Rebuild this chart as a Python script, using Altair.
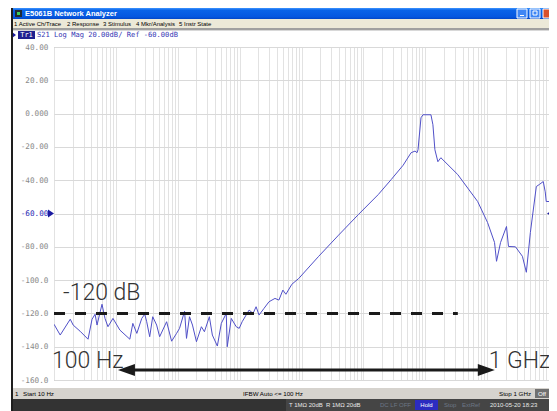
import altair as alt
import pandas as pd

# ---- trace data (S21, log magnitude) ----
freq_hz = [10, 12.6, 18.3, 20.4, 26.4, 35.5, 41.2, 46.1, 49.6, 59.7, 66.7, 74.5, 89.7,
           116, 168, 188, 218, 262, 293, 315, 352, 394, 456, 510, 661, 796, 957, 1069,
           1288, 1385, 1549, 1730, 2005, 2411, 2698, 3243, 3624, 4365, 5058, 6081, 6310,
           7328, 8810, 9840, 10990, 14230, 16520, 18450, 20610, 24770, 29850, 37240,
           43150, 50000, 55950, 69860, 90370, 189700, 397200, 832000, 1.742e6, 2.818e6,
           4.395e6, 5.902e6, 6.839e6, 7.366e6, 7.642e6, 8.535e6, 9.19e6, 1.236e7, 1.33e7,
           1.432e7, 1.6e7, 1.787e7, 3.35e7, 7.03e7, 1.016e8, 1.318e8, 1.419e8, 1.648e8,
           2.056e8, 2.213e8, 2.871e8, 3.715e8, 4.306e8, 5.0e8, 6.237e8, 6.966e8, 8.075e8,
           8.69e8, 9.02e8, 1e9]
s21_db = [-126.5, -133, -123.5, -127, -130.7, -135.5, -123.5, -120.5, -127, -114.5, -123,
          -128, -123, -130, -135.5, -126, -132, -123, -120.5, -125, -134, -122, -127, -134,
          -125, -136.7, -132, -129, -118.7, -135, -122, -127, -137, -128, -131, -122, -133,
          -139.6, -126, -120, -140, -123, -128, -129, -125, -118, -120, -116, -121, -117,
          -113, -111, -112, -106, -108.5, -102.5, -99, -85.7, -73, -60.6, -48.6, -39.6,
          -31, -23.5, -22.5, -23.5, -21.7, -2.5, -0.7, -0.7, -6.7, -21.7, -28.9, -26.5,
          -36.6, -52.8, -65.4, -77.4, -88.7, -77.4, -67.8, -79.8, -80, -85.7, -95.3, -71.4,
          -43.8, -42.6, -40.8, -47, -52.8, -52.8]

x_domain = [10, 1e9]
y_domain = [-160, 40]
grid_hz = [m * 10 ** k for k in range(1, 9) for m in range(1, 10)] + [1e9]
y_ticks = [40, 20, 0, -20, -40, -60, -80, -100, -120, -140, -160]
y_tick_labels = ["40.00", "20.00", "0.000", "-20.00", "-40.00", "-60.00", "-80.00",
                 "-100.0", "-120.0", "-140.0", "-160.0"]
ref_db = -60

# annotations
noise_floor_db = -120
noise_line_hz = [10, 3.36e7]
arrow_hz = [108, 1.33e8]
arrow_db = -154
ann_text = ["-120 dB", "100 Hz", "1 GHz"]
ann_hz = [14.0, 9.3, 1.06e8]
ann_db = [-111.7, -152.8, -152.5]

title_text = "E5061B Network Analyzer"
menu_items = ["1 Active Ch/Trace", "2 Response", "3 Stimulus", "4 Mkr/Analysis", "5 Instr State"]
trace_text = "S21 Log Mag 20.00dB/ Ref -60.00dB"
status_items = ["1", "Start 10 Hz", "IFBW Auto <= 100 Hz", "Stop 1 GHz"]
hw_items = ["T 1MΩ 20dB", "R 1MΩ 20dB", "DC LF OFF", "Stop", "ExtRef", "2010-05-20 18:23"]

# ---- helpers ----
one = pd.DataFrame({"a": [0]})
XS = alt.Scale(type="log", domain=x_domain)
YS = alt.Scale(domain=y_domain)
R = 495  # right edge of the drawing, relative to the plot origin

label_expr = " : ".join(
    f"datum.value == {v} ? '{l}'" for v, l in zip(y_ticks, y_tick_labels)) + " : ''"

AX = alt.Axis(values=grid_hz, grid=True, labels=False, ticks=False, domain=False,
              gridColor="#e2e2e2", gridWidth=1, title=None)
AY = alt.Axis(values=y_ticks, grid=True, ticks=False, domain=False, title=None,
              gridColor="#d9d9d9", labelExpr=label_expr, labelOverlap=False,
              labelFont="DejaVu Sans Mono", labelFontSize=7.7, labelPadding=6,
              labelBound=False,
              labelColor={"condition": {"test": f"datum.value == {ref_db}",
                                        "value": "#2a2ab4"},
                          "value": "#8a8a8a"})


def X(field="f"):
    return alt.X(f"{field}:Q", scale=XS, axis=AX, title=None)


def Y(field="db"):
    return alt.Y(f"{field}:Q", scale=YS, axis=AY, title=None)


def box(x1, x2, y1, y2, fill, stroke=None):
    kw = {"fill": fill}
    if stroke:
        kw["stroke"] = stroke
        kw["strokeWidth"] = 1
    return alt.Chart(one).mark_rect(**kw).encode(
        x=alt.value(x1), x2=alt.value(x2), y=alt.value(y1), y2=alt.value(y2))


def txt(s, px, py, size, color, font="Liberation Sans", weight="normal", align="left"):
    return alt.Chart(one).mark_text(
        text=s, align=align, baseline="middle", fontSize=size, font=font,
        fontWeight=weight, color=color).encode(x=alt.value(px), y=alt.value(py))


df = pd.DataFrame({"f": freq_hz, "db": s21_db})

trace = alt.Chart(df).mark_line(color="#5050c8", strokeWidth=1, clip=True).encode(
    x=X(), y=Y())

noise_line = alt.Chart(pd.DataFrame({"f": [noise_line_hz[0]], "f2": [noise_line_hz[1]],
                                     "db": [noise_floor_db]})).mark_rule(
    color="#1a1a1a", strokeWidth=3, strokeDash=[11, 10]).encode(
    x=X(), x2="f2:Q", y=Y())

arrow_line = alt.Chart(pd.DataFrame({"f": [arrow_hz[0]], "f2": [arrow_hz[1]],
                                     "db": [arrow_db]})).mark_rule(
    color="#1a1a1a", strokeWidth=3, xOffset=8, x2Offset=-8).encode(
    x=X(), x2="f2:Q", y=Y())

head_l = alt.Chart(pd.DataFrame({"f": [arrow_hz[0]], "db": [arrow_db]})).mark_point(
    shape="M0,0L2,-0.7L2,0.7Z", size=289, filled=True, color="#1a1a1a", opacity=1,
    strokeWidth=0).encode(x=X(), y=Y())
head_r = alt.Chart(pd.DataFrame({"f": [arrow_hz[1]], "db": [arrow_db]})).mark_point(
    shape="M0,0L-2,-0.7L-2,0.7Z", size=289, filled=True, color="#1a1a1a", opacity=1,
    strokeWidth=0).encode(x=X(), y=Y())

ann = alt.Chart(pd.DataFrame({"f": ann_hz, "db": ann_db, "t": ann_text})).mark_text(
    align="left", baseline="alphabetic", font="Roboto", fontWeight=300, fontSize=23,
    color="#333333").encode(x=X(), y=Y(), text="t:N")

ref_l = alt.Chart(pd.DataFrame({"f": [x_domain[0]], "db": [ref_db]})).mark_point(
    shape="M0,0L-2,-1.33L-2,1.33Z", size=36, filled=True, color="#1a1aa0", opacity=1,
    strokeWidth=0).encode(x=X(), y=Y())
ref_r = alt.Chart(pd.DataFrame({"f": [x_domain[1]], "db": [ref_db]})).mark_point(
    shape="M0,0L2,-1.33L2,1.33Z", size=36, filled=True, color="#1a1aa0", opacity=1,
    strokeWidth=0, xOffset=-2).encode(x=X(), y=Y())

title_grad = alt.LinearGradient(
    gradient="linear", x1=0, x2=0, y1=0, y2=1,
    stops=[alt.GradientStop(color="#3d95ff", offset=0),
           alt.GradientStop(color="#0a63e8", offset=0.2),
           alt.GradientStop(color="#0557e0", offset=0.8),
           alt.GradientStop(color="#0346c6", offset=1)])

chrome = [
    # title bar
    alt.Chart(one).mark_rect(fill=title_grad).encode(
        x=alt.value(-41), x2=alt.value(R), y=alt.value(-39), y2=alt.value(-28)),
    box(-39, -32, -37, -30, "#222a33"),
    box(-37, -34, -35, -32, "#3ccf5a"),
    txt(title_text, -29, -33.5, 7.5, "white", weight="bold"),
    box(R - 32, R - 22, -38, -29, "#3f86f4", "#ffffff"),
    box(R - 29, R - 25, -32, -31, "#ffffff"),
    box(R - 19, R - 9, -38, -29, "#3f86f4", "#ffffff"),
    box(R - 16, R - 12, -36, -32, "#3f86f4", "#ffffff"),
    box(R - 6, R + 4, -38, -29, "#d9512c", "#ffffff"),
    # menu bar
    box(-41, R, -28, -19, "#ece9d8"),
    txt(menu_items[0], -40, -23.5, 6, "#000000"),
    txt(menu_items[1], 13, -23.5, 6, "#000000"),
    txt(menu_items[2], 49, -23.5, 6, "#000000"),
    txt(menu_items[3], 82, -23.5, 6, "#000000"),
    txt(menu_items[4], 125, -23.5, 6, "#000000"),
    box(-41, R, -19, -17, "#a0a0a0"),
    box(-41, R, -17, -16, "#d8d8d8"),
    # trace header
    alt.Chart(one).mark_point(shape="M0,0L-2,-1.5L-2,1.5Z", size=9, filled=True,
                              color="#1a1aa0", opacity=1, strokeWidth=0).encode(
        x=alt.value(-38), y=alt.value(-12)),
    box(-36, -19, -16, -8, "#202090"),
    txt("Tr1", -27.5, -12, 7, "#ffffff", font="DejaVu Sans Mono", align="center"),
    txt(trace_text, -17, -12, 7.1, "#3434b4", font="DejaVu Sans Mono"),
    # left window frame
    box(-43, -41, -39, 364, "#1e1e1e"),
    # bottom status bar
    box(-41, R, 341, 352, "#d6d3ce"),
    txt(status_items[0], -39, 346.5, 6.2, "#000000"),
    txt(status_items[1], -31, 346.5, 6.2, "#000000"),
    txt(status_items[2], 189, 346.5, 6.2, "#000000"),
    txt(status_items[3], 445, 346.5, 6.2, "#000000"),
    box(481, R + 2, 342, 351, "#707070"),
    txt("Off", 488, 346.5, 6.2, "#ffffff", align="center"),
    # hardware status bar
    box(-41, R, 352, 364, "#333333"),
    box(232, R, 352, 364, "#454545"),
    txt(hw_items[0], 235, 358, 6, "#e8e8e8"),
    txt(hw_items[1], 272, 358, 6, "#e8e8e8"),
    txt(hw_items[2], 326, 358, 6, "#6d7785"),
    box(361, 384, 353, 363, "#2c2cc0"),
    txt("Hold", 372.5, 358, 6, "#ffffff", align="center"),
    txt(hw_items[3], 390, 358, 6, "#6d7785"),
    txt(hw_items[4], 408, 358, 6, "#6d7785"),
    txt(hw_items[5], 436, 358, 6, "#e8e8e8"),
]

chart = alt.layer(trace, noise_line, arrow_line, head_l, head_r, ann, ref_l, ref_r,
                  *chrome).properties(
    width=495, height=333,
    padding={"left": 46, "top": 39, "right": 0, "bottom": 31},
    autosize=alt.AutoSizeParams(type="none"),
    background="white",
).configure_view(stroke="#a6a6a6", strokeWidth=1)

chart.save("out.html", embed_options={"renderer": "svg", "actions": False})
